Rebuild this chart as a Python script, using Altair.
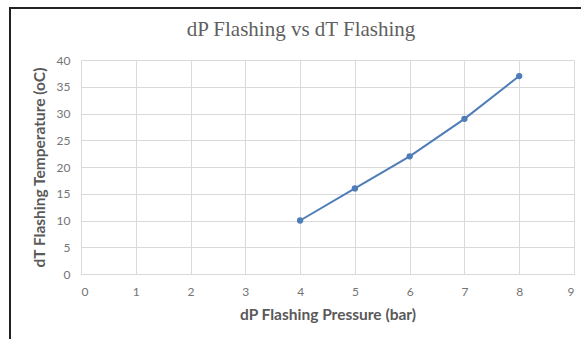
import altair as alt
import pandas as pd

pressure = [4, 5, 6, 7, 8]
temperature = [10, 16, 22, 29, 37]
title_text = "dP Flashing vs dT Flashing"

df = pd.DataFrame({"p": pressure, "t": temperature})

frame = alt.Chart(pd.DataFrame({"a": [0]})).mark_rect(
    fill=None, stroke="#222222", strokeWidth=2
).encode(
    x=alt.value(-71), x2=alt.value(520), y=alt.value(-52), y2=alt.value(300)
)

title = alt.Chart(pd.DataFrame({"s": [title_text]})).mark_text(
    font="Liberation Serif", fontSize=21, color="#5f5f5f", align="center", baseline="middle"
).encode(text="s:N", x=alt.value(220), y=alt.value(-30))

base = alt.Chart(df).encode(
    x=alt.X("p:Q", scale=alt.Scale(domain=[0, 9], nice=False),
            axis=alt.Axis(title="dP Flashing Pressure (bar)", values=list(range(10)))),
    y=alt.Y("t:Q", scale=alt.Scale(domain=[0, 40], nice=False),
            axis=alt.Axis(title="dT Flashing Temperature (oC)", values=list(range(0, 45, 5)))),
)

line = base.mark_line(color="#4F7DB8", strokeWidth=2)
pts = base.mark_circle(color="#4F7DB8", size=40, opacity=1)

chart = alt.layer(line, pts, frame, title).properties(
    width=493, height=214,
    padding={"left": 81, "top": 60, "right": 7, "bottom": 65},
    autosize=alt.AutoSizeParams(type="none"),
).configure_view(stroke=None).configure_axis(
    grid=True, gridColor="#d9d9d9", gridWidth=1, domain=False, ticks=False,
    labelColor="#747474", labelFont="Lato", labelFontSize=12, labelOverlap=False,
    titleColor="#595959", titleFont="Lato", titleFontSize=15.5, titleFontWeight="bold",
).configure_axisX(domain=True, domainColor="#d9d9d9", labelPadding=12, titlePadding=10
).configure_axisY(labelPadding=11, titlePadding=9)

chart.save("out.html", embed_options={"renderer": "svg", "actions": False})
